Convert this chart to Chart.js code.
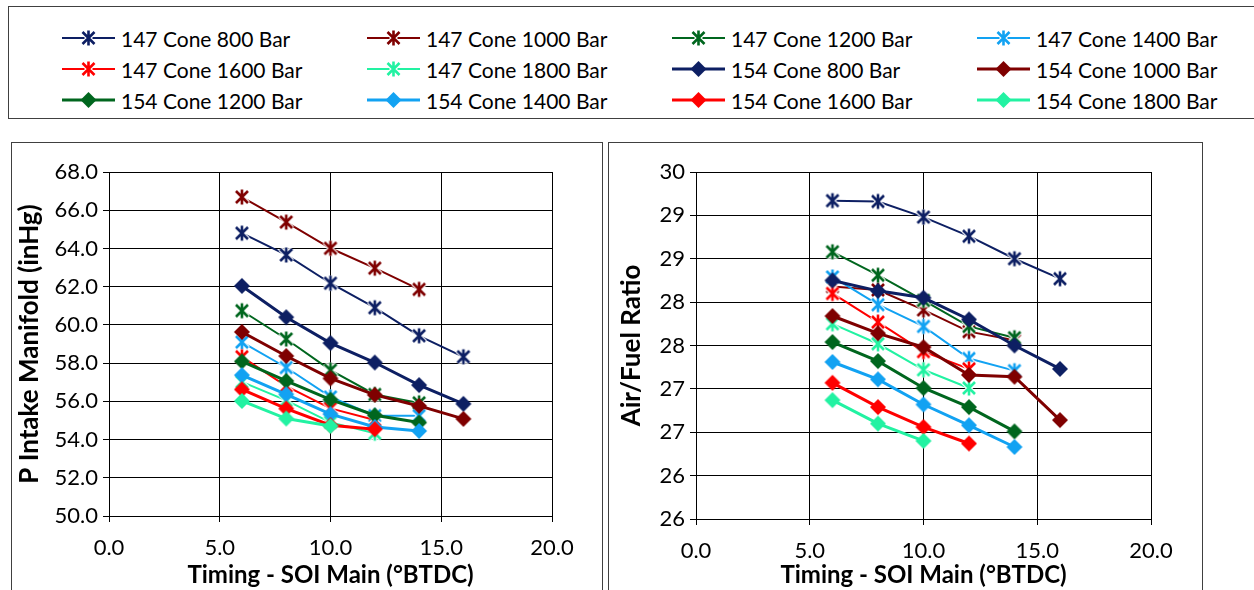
<!DOCTYPE html>
<html>
<head>
<meta charset="utf-8">
<script src="https://cdn.jsdelivr.net/npm/chart.js@4"></script>
<style>
    body { margin: 0; background: #fff; width: 1254px; height: 590px; overflow: hidden; position: relative; font-family: Lato, sans-serif; }
    .caixa { position: absolute; border: 1px solid #404040; box-sizing: border-box; }
    #legenda { left: 8px; top: 6px; width: 1252px; height: 113px; }
    .item { position: absolute; height: 30px; display: flex; align-items: center; font-size: 21px; color: #000; white-space: nowrap; }
    .item canvas { margin-right: 6px; }
    canvas.grafico { position: absolute; }
</style>
</head>
<body>
<div class="caixa" id="legenda"></div>
<div class="caixa" style="left:11px;top:142px;width:592px;height:460px"></div>
<div class="caixa" style="left:608px;top:142px;width:595px;height:460px"></div>
<canvas id="pressao" class="grafico" width="591" height="448" style="left:11px;top:142px"></canvas>
<canvas id="afr" class="grafico" width="594" height="448" style="left:608px;top:142px"></canvas>
<script>
// timing (deg BTDC) - todas as series comecam em 6
const timing = [6, 8, 10, 12, 14, 16]

const nomes = [
    '147 Cone 800 Bar', '147 Cone 1000 Bar', '147 Cone 1200 Bar', '147 Cone 1400 Bar',
    '147 Cone 1600 Bar', '147 Cone 1800 Bar', '154 Cone 800 Bar', '154 Cone 1000 Bar',
    '154 Cone 1200 Bar', '154 Cone 1400 Bar', '154 Cone 1600 Bar', '154 Cone 1800 Bar'
]
const cores = [
    '#0D1F63', '#7F0000', '#00661E', '#12A2F2', '#FF0000', '#22F2A2',
    '#0D1F63', '#7F0000', '#00661E', '#12A2F2', '#FF0000', '#22F2A2'
]
const marcadores = ['x', 'x', 'x', 'x', 'x', 'x', 'diamante', 'diamante', 'diamante', 'diamante', 'diamante', 'diamante']

// P Intake Manifold (inHg)
const p147_800 = [64.8, 63.66, 62.18, 60.9, 59.43, 58.33]
const p147_1000 = [66.69, 65.38, 64.01, 62.97, 61.86]
const p147_1200 = [60.74, 59.26, 57.63, 56.36, 55.92]
const p147_1400 = [59.1, 57.77, 56.23, 55.25, 55.25]
const p147_1600 = [58.33, 56.8, 55.63, 55.02]
const p147_1800 = [57.02, 56.05, 54.9, 54.33]
const p154_800 = [62.04, 60.4, 59.05, 58.03, 56.85, 55.87]
const p154_1000 = [59.63, 58.37, 57.2, 56.34, 55.76, 55.08]
const p154_1200 = [58.09, 57.07, 56.09, 55.27, 54.89]
const p154_1400 = [57.37, 56.37, 55.33, 54.66, 54.45]
const p154_1600 = [56.62, 55.62, 54.75, 54.54]
const p154_1800 = [56.02, 55.1, 54.71]

// Air/Fuel Ratio
const a147_800 = [29.17, 29.16, 28.98, 28.76, 28.5, 28.27]
const a147_1000 = [28.18, 28.14, 27.91, 27.66, 27.56]
const a147_1200 = [28.58, 28.31, 28.02, 27.72, 27.59]
const a147_1400 = [28.29, 27.97, 27.72, 27.35, 27.21]
const a147_1600 = [28.1, 27.77, 27.43, 27.23]
const a147_1800 = [27.75, 27.52, 27.22, 27.01]
const a154_800 = [28.25, 28.13, 28.05, 27.8, 27.5, 27.23]
const a154_1000 = [27.84, 27.64, 27.48, 27.16, 27.14, 26.64]
const a154_1200 = [27.54, 27.32, 27.01, 26.79, 26.51]
const a154_1400 = [27.31, 27.11, 26.82, 26.58, 26.33]
const a154_1600 = [27.07, 26.79, 26.56, 26.37]
const a154_1800 = [26.87, 26.6, 26.4]

const seriesPressao = [p147_800, p147_1000, p147_1200, p147_1400, p147_1600, p147_1800,
    p154_800, p154_1000, p154_1200, p154_1400, p154_1600, p154_1800]
const seriesAfr = [a147_800, a147_1000, a147_1200, a147_1400, a147_1600, a147_1800,
    a154_800, a154_1000, a154_1200, a154_1400, a154_1600, a154_1800]

// eixos
const xTicks = [0, 5, 10, 15, 20]
const pressaoTicks = [50, 52, 54, 56, 58, 60, 62, 64, 66, 68]
const afrTicks = [25.5, 26, 26.5, 27, 27.5, 28, 28.5, 29, 29.5]
const afrTickLabels = ['26', '26', '27', '27', '28', '28', '29', '29', '30']

function desenhaMarcador(ctx, tipo, cor, cx, cy) {
    if (tipo === 'x') {
        for (const [largura, c] of [[5, '#fff'], [2.6, cor]]) {
            ctx.strokeStyle = c
            ctx.lineWidth = largura
            ctx.beginPath()
            ctx.moveTo(cx - 6, cy - 6); ctx.lineTo(cx + 6, cy + 6)
            ctx.moveTo(cx + 6, cy - 6); ctx.lineTo(cx - 6, cy + 6)
            ctx.moveTo(cx, cy - 7.5); ctx.lineTo(cx, cy + 7.5)
            ctx.stroke()
        }
    } else {
        ctx.fillStyle = cor
        ctx.beginPath()
        ctx.moveTo(cx, cy - 8); ctx.lineTo(cx + 8, cy)
        ctx.lineTo(cx, cy + 8); ctx.lineTo(cx - 8, cy)
        ctx.closePath()
        ctx.fill()
    }
}

// imagens dos marcadores para o pointStyle
let imagens = nomes.map((n, i) => {
    let c = document.createElement('canvas')
    c.width = 22
    c.height = 22
    desenhaMarcador(c.getContext('2d'), marcadores[i], cores[i], 11, 11)
    return c
})

// legenda em grade 4 x 3
let legenda = document.getElementById('legenda')
nomes.forEach((nome, i) => {
    let col = i % 4
    let lin = Math.floor(i / 4)
    let item = document.createElement('div')
    item.className = 'item'
    item.style.left = (53 + col * 305) + 'px'
    item.style.top = (16 + lin * 31) + 'px'
    let amostra = document.createElement('canvas')
    amostra.width = 53
    amostra.height = 30
    let ctx = amostra.getContext('2d')
    ctx.strokeStyle = cores[i]
    ctx.lineWidth = marcadores[i] === 'x' ? 2 : 3
    ctx.beginPath()
    ctx.moveTo(0, 15)
    ctx.lineTo(53, 15)
    ctx.stroke()
    desenhaMarcador(ctx, marcadores[i], cores[i], 26.5, 15)
    item.appendChild(amostra)
    item.appendChild(document.createTextNode(nome))
    legenda.appendChild(item)
})

Chart.defaults.font.family = 'Lato'
Chart.defaults.color = '#000'

function criaGrafico(id, series, yTicks, yLabel, tituloY, medidas) {
    new Chart(document.getElementById(id), {
        type: 'scatter',
        data: {
            datasets: series.map((valores, i) => ({
                label: nomes[i],
                data: valores.map((v, j) => ({ x: timing[j], y: v })),
                borderColor: cores[i],
                backgroundColor: cores[i],
                borderWidth: marcadores[i] === 'x' ? 2 : 3,
                pointStyle: imagens[i],
                pointRadius: 8,
                showLine: true,
                tension: 0,
                order: series.length - i
            }))
        },
        options: {
            responsive: false,
            animation: false,
            devicePixelRatio: 1,
            layout: { padding: { top: 30, right: medidas.direita, left: 0, bottom: 0 } },
            plugins: { legend: { display: false }, tooltip: { enabled: false } },
            scales: {
                x: {
                    type: 'linear',
                    min: 0,
                    max: 20,
                    afterBuildTicks: s => { s.ticks = xTicks.map(v => ({ value: v })) },
                    afterFit: s => { s.height = medidas.alturaX },
                    ticks: { callback: v => v.toFixed(1), font: { size: 22 }, padding: 13, maxRotation: 0 },
                    grid: { color: '#000', tickLength: 6 },
                    border: { color: '#000' },
                    title: { display: true, text: 'Timing - SOI Main (°BTDC)', font: { size: 24, weight: 'bold' }, padding: 0 }
                },
                y: {
                    type: 'linear',
                    min: yTicks[0],
                    max: yTicks[yTicks.length - 1],
                    afterBuildTicks: s => { s.ticks = yTicks.map(v => ({ value: v })) },
                    afterFit: s => { s.width = medidas.larguraY },
                    ticks: { callback: yLabel, font: { size: 22 }, padding: 5 },
                    grid: { color: '#000', tickLength: 6 },
                    border: { color: '#000' },
                    title: { display: true, text: tituloY, font: { size: 26, weight: 'bold' }, padding: { top: medidas.tituloY, bottom: 0 } }
                }
            }
        }
    })
}

criaGrafico('pressao', seriesPressao, pressaoTicks, v => v.toFixed(1), 'P Intake Manifold (inHg)',
    { direita: 50, alturaX: 74, larguraY: 98, tituloY: 3 })
criaGrafico('afr', seriesAfr, afrTicks, (v, i) => afrTickLabels[i], 'Air/Fuel Ratio',
    { direita: 51, alturaX: 71, larguraY: 88, tituloY: 8 })
</script>
</body>
</html>
